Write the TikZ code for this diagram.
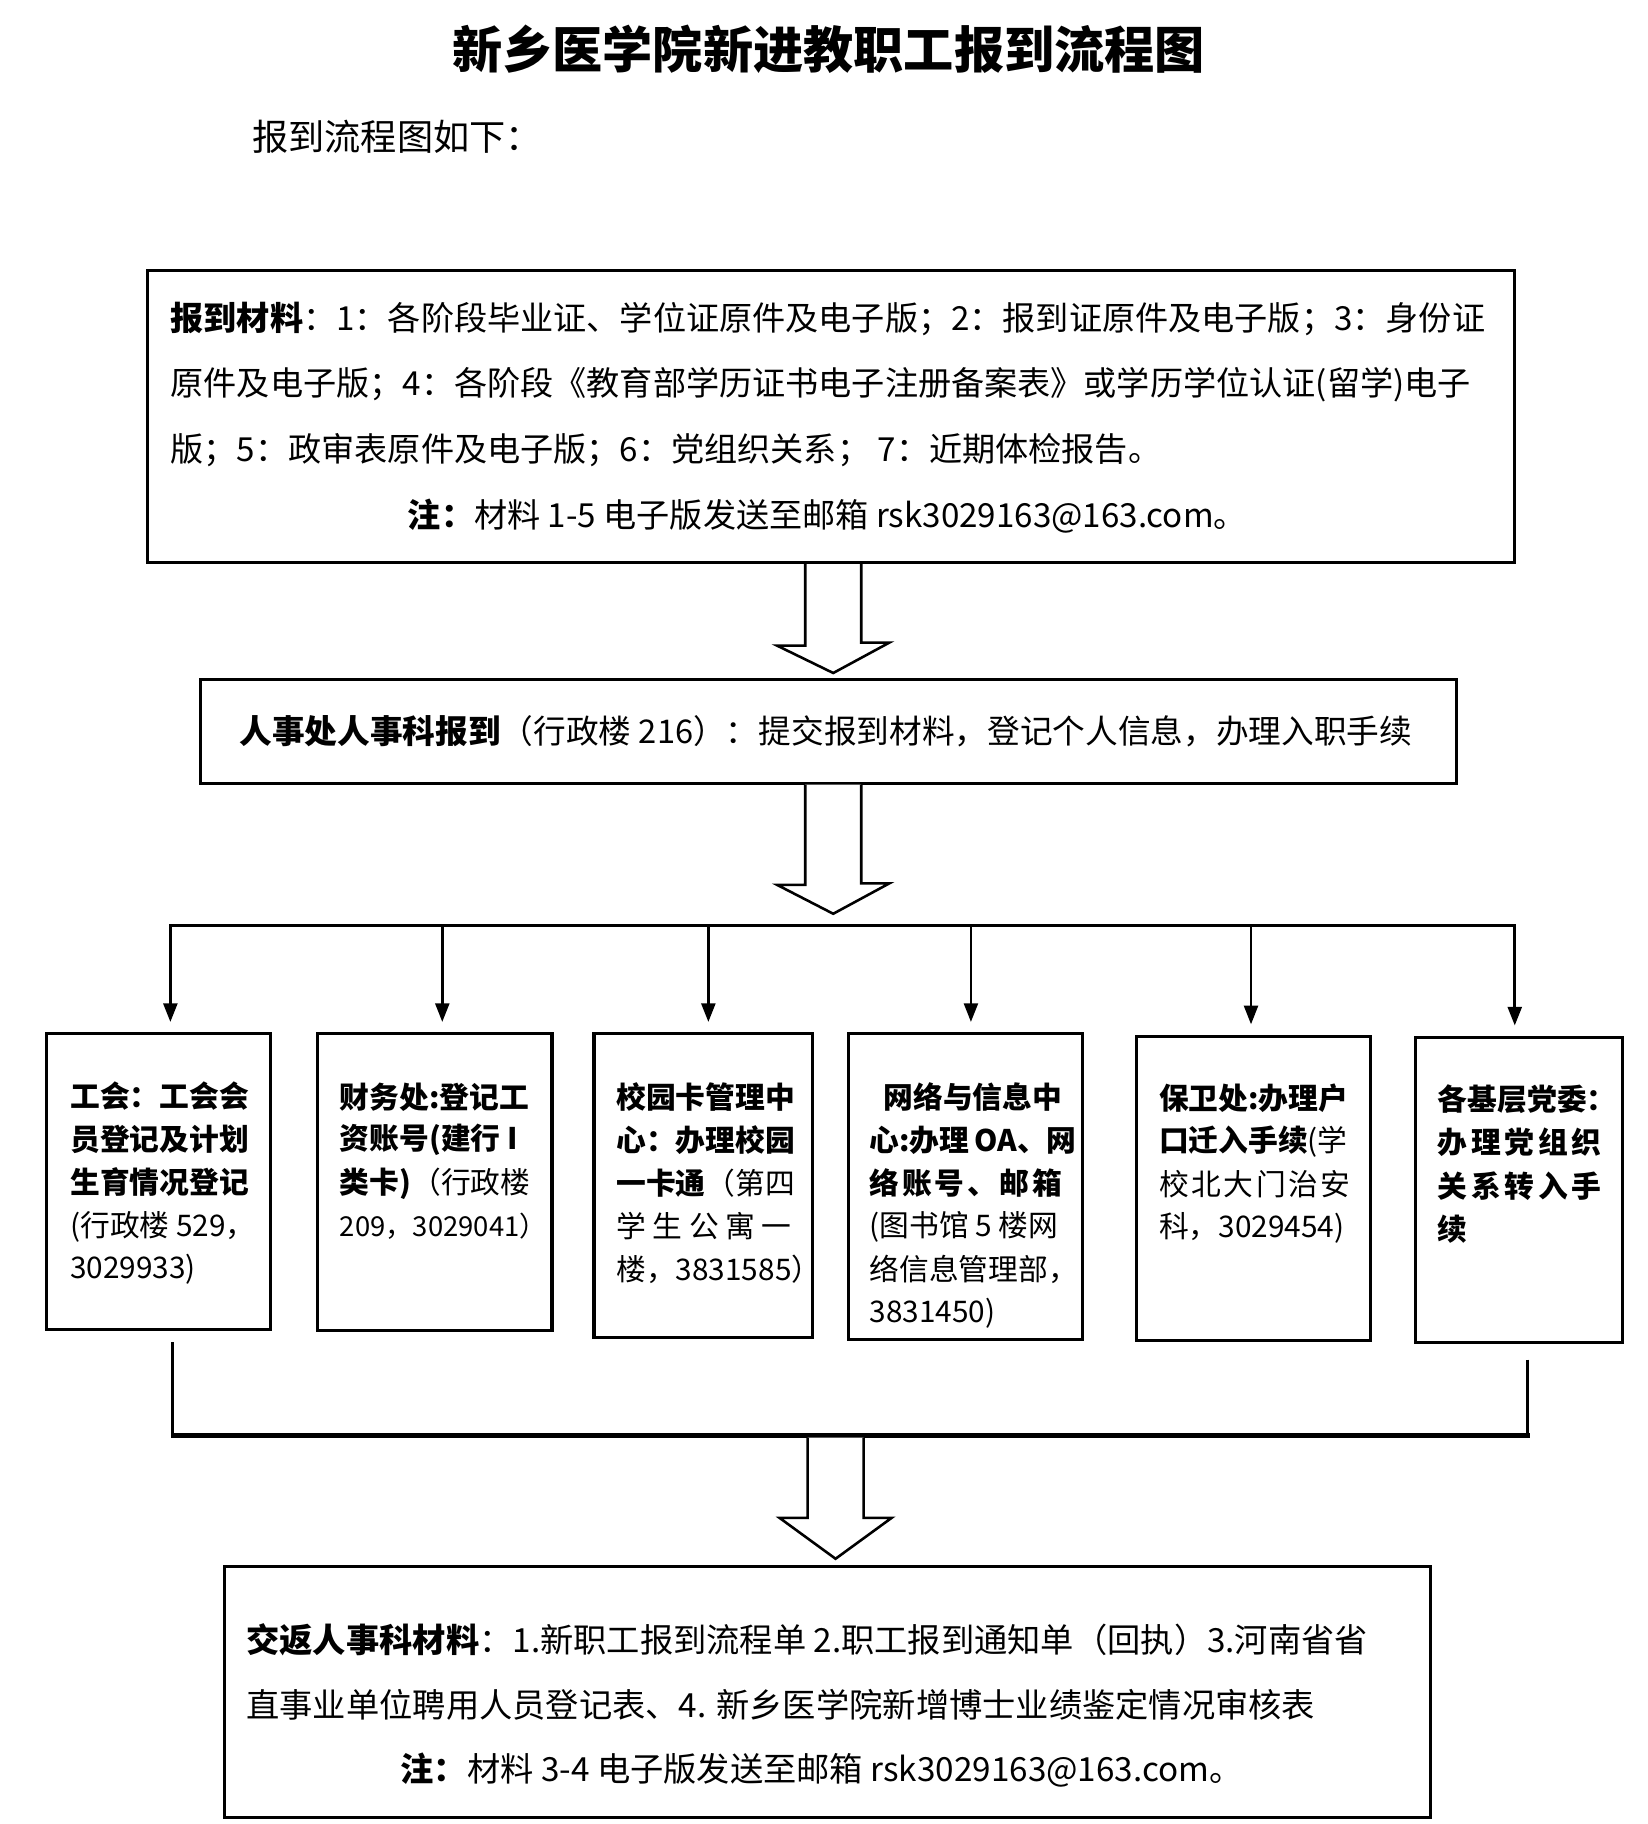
\documentclass[tikz,border=0pt]{standalone}
\usepackage{fontspec}
\setmainfont{Noto Sans CJK SC}
\usetikzlibrary{arrows.meta,calc}
\newcommand\jl[2]{\hbox to #1{#2}}
\newcommand\fs[1]{\fontsize{#1pt}{#1pt}\selectfont}
\begin{document}
\begin{tikzpicture}[x=1pt,y=-1pt,
  box/.style={draw, line width=2.6pt, inner sep=0pt},
  txt/.style={anchor=west, inner sep=0pt},
  ctxt/.style={inner sep=0pt},
  drop/.style={line width=2.2pt, -{Triangle[length=16pt,width=12pt]}},
  blk/.style={draw, line width=2.2pt, fill=white, line join=miter}]
\useasboundingbox (0,0) rectangle (1412,1563);
\fill[white] (0,0) rectangle (1412,1563);

% title
\node[ctxt] (title) at (710,42) {\fs{43}\bfseries 新乡医学院新进教职工报到流程图};
\node[txt] (sub) at (216,117) {\fs{31}报到流程图如下：};

% boxes
\node[box, minimum width=1172pt, minimum height=250pt] (m1) at (712,357) {};
\node[box, minimum width=1076pt, minimum height=89pt] (m2) at (710,626.5) {};
\node[box, minimum width=192pt, minimum height=253pt] (g1) at (136,1012.5) {};
\node[box, minimum width=201pt, minimum height=254pt] (g2) at (372.5,1013) {};
\node[box, minimum width=187pt, minimum height=260pt] (g3) at (602.5,1016) {};
\node[box, minimum width=201pt, minimum height=262pt] (g4) at (827.5,1017) {};
\node[box, minimum width=200pt, minimum height=261pt] (g5) at (1074,1018.5) {};
\node[box, minimum width=177pt, minimum height=261pt] (g6) at (1301.5,1019.5) {};
\node[box, minimum width=1034pt, minimum height=215pt] (m3) at (709,1449.5) {};

% box 1 text
\node[txt] (l11) at (146,273) {\fs{28.4}\textbf{报到材料}：1：各阶段毕业证、学位证原件及电子版；2：报到证原件及电子版；3：身份证};
\node[txt] (l12) at (146,330) {\fs{28.4}原件及电子版；4：各阶段《教育部学历证书电子注册备案表》或学历学位认证(留学)电子};
\node[txt] (l13) at (146,386) {\fs{28.4}版；5：政审表原件及电子版；6：党组织关系； 7：近期体检报告。};
\node[ctxt] (l14) at (709,442) {\fs{28.4}\textbf{注：}材料 1-5 电子版发送至邮箱 rsk3029163@163.com。};

% box 2 text
\node[txt] (l21) at (205,627) {\fs{28}\textbf{人事处人事科报到}（行政楼 216）：提交报到材料，登记个人信息，办理入职手续};

% small boxes text
\begin{scope}[every node/.append style={txt, font=\fs{25.5}}]
\node (a1) at (60,939) {\textbf{工会：工会会}};
\node (a2) at (60,976) {\textbf{员登记及计划}};
\node (a3) at (60,1013) {\textbf{生育情况登记}};
\node (a4) at (60,1051) {(行政楼 529，};
\node (a5) at (60,1088) {3029933)};

\node (b1) at (291,940) {\textbf{财务处:登记工}};
\node (b2) at (291,977) {\textbf{资账号(建行 I}};
\node (b3) at (291,1014) {\textbf{类卡)}（行政楼};
\node (b4) at (291,1051) {\fs{23.5}209，3029041）};

\node (c1) at (528,940) {\textbf{校园卡管理中}};
\node (c2) at (528,977) {\textbf{心：办理校园}};
\node (c3) at (528,1014) {\textbf{一卡通}（第四};
\node (c4) at (528,1051) {\jl{150pt}{学\hfill 生\hfill 公\hfill 寓\hfill 一}};
\node (c5) at (528,1088) {楼，3831585）};

\node (d1) at (757,940) {\textbf{网络与信息中}};
\node (d2) at (745,977) {\textbf{心:办理\,OA、网}};
\node (d3) at (745,1014) {\jl{165pt}{\bfseries 络\hfill 账\hfill 号\hfill 、\hfill 邮\hfill 箱}};
\node (d4) at (745,1051) {(图书馆 5 楼网};
\node (d5) at (745,1088) {络信息管理部，};
\node (d6) at (745,1125) {3831450)};

\node (e1) at (993,941) {\textbf{保卫处:办理户}};
\node (e2) at (993,978) {\textbf{口迁入手续}(学};
\node (e3) at (993,1015) {\jl{164pt}{校\hfill 北\hfill 大\hfill 门\hfill 治\hfill 安}};
\node (e4) at (993,1052) {科，3029454)};

\node (f1) at (1232,942) {\textbf{各基层党委：}};
\node (f2) at (1232,979) {\jl{140pt}{\bfseries 办\hfill 理\hfill 党\hfill 组\hfill 织}};
\node (f3) at (1232,1016) {\jl{140pt}{\bfseries 关\hfill 系\hfill 转\hfill 入\hfill 手}};
\node (f4) at (1232,1053) {\textbf{续}};
\end{scope}

% bottom box text
\node[txt] (n1) at (211,1405) {\fs{28.5}\textbf{交返人事科材料}：1.新职工报到流程单 2.职工报到通知单（回执）3.河南省省};
\node[txt] (n2) at (211,1461) {\fs{28.5}直事业单位聘用人员登记表、4. 新乡医学院新增博士业绩鉴定情况审核表};
\node[ctxt] (n3) at (704,1517) {\fs{28.5}\textbf{注：}材料 3-4 电子版发送至邮箱 rsk3029163@163.com。};

% block arrows
\coordinate (ax) at (714,0);
\coordinate (ax3) at (716,0);
\coordinate (busL) at (146,793);
\coordinate (busR) at (1298,793);
\draw[blk] ($(ax |- m1.south)+(-24,0)$) -- ++(0,70) -- ++(-24,0) -- ($(ax |- m2.north)+(0,-4)$) -- ++(48,-26) -- ++(-24,0) -- ($(ax |- m1.south)+(24,0)$);
\draw[blk] ($(ax |- m2.south)+(-24,0)$) -- ++(0,86) -- ++(-24,0) -- ($(ax |- busL)+(0,-10)$) -- ++(48,-26) -- ++(-24,0) -- ($(ax |- m2.south)+(24,0)$);

% distribution bus
\draw[line width=2.4pt, line cap=rect] (busL) -- (busR);
\coordinate (t1) at (146,793);
\coordinate (t2) at (379,793);
\coordinate (t3) at (607,793);
\coordinate (t4) at (832,793);
\coordinate (t5) at (1072,793);
\coordinate (t6) at (1298,793);
\draw[drop] (t1) -- ($(t1 |- g1.north)+(0,-9)$);
\draw[drop] (t2) -- ($(t2 |- g2.north)+(0,-9)$);
\draw[drop] (t3) -- ($(t3 |- g3.north)+(0,-9)$);
\draw[drop] (t4) -- ($(t4 |- g4.north)+(0,-9)$);
\draw[drop] (t5) -- ($(t5 |- g5.north)+(0,-9)$);
\draw[drop] (t6) -- ($(t6 |- g6.north)+(0,-9)$);

% gathering lines
\coordinate (k1) at (148,1150);
\coordinate (k2) at (1309,1165);
\coordinate (ky) at (0,1230);
\draw[line width=2.2pt] (k1) -- (k1 |- ky);
\draw[line width=2.2pt] (k2) -- (k2 |- ky);
\draw[line width=3.6pt, line cap=rect] (k1 |- ky) -- (k2 |- ky);
\draw[blk] ($(ax3 |- ky)+(-24,2)$) -- ($(ax3 |- m3.north)+(-24,-40)$) -- ++(-24,0) -- ($(ax3 |- m3.north)+(0,-5)$) -- ++(48,-35) -- ++(-24,0) -- ($(ax3 |- ky)+(24,2)$);
\end{tikzpicture}
\end{document}
